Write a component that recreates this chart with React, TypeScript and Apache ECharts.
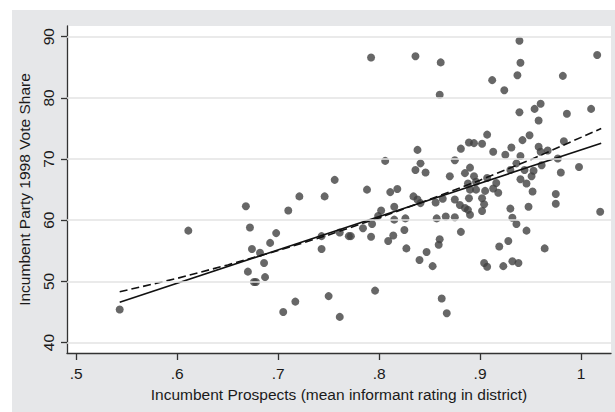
import React, { useEffect, useRef } from "react";
import * as echarts from "echarts";

const xTicks = [0.5, 0.6, 0.7, 0.8, 0.9, 1.0];
const yTicks = [40, 50, 60, 70, 80, 90];

const prospects = [
  0.543, 0.611, 0.668, 0.672, 0.674, 0.670, 0.676, 0.678, 0.682, 0.686, 0.687, 0.692, 0.698, 0.710, 0.721, 0.705, 0.717, 0.743, 0.743, 0.746,
  0.756, 0.750, 0.761, 0.761, 0.770, 0.772, 0.784, 0.788, 0.792, 0.792, 0.793, 0.796, 0.799,
  0.802, 0.806, 0.809, 0.811, 0.814, 0.815, 0.815, 0.818, 0.826, 0.825, 0.827, 0.836, 0.838, 0.836, 0.834, 0.838, 0.841, 0.841, 0.840, 0.846, 0.847,
  0.853, 0.856, 0.863, 0.857, 0.859, 0.860, 0.861, 0.860, 0.862, 0.867, 0.866, 0.870, 0.875, 0.875, 0.875, 0.881, 0.881, 0.880, 0.885, 0.885, 0.889, 0.888, 0.890, 0.889, 0.888, 0.890, 0.890, 0.894, 0.894, 0.896, 0.896,
  0.902, 0.902, 0.904, 0.902, 0.904, 0.907, 0.905, 0.907, 0.907, 0.912, 0.913, 0.913, 0.916, 0.918, 0.919, 0.923, 0.924, 0.925, 0.928, 0.930, 0.931, 0.930, 0.932, 0.932, 0.936, 0.937, 0.939, 0.939, 0.940, 0.936, 0.938, 0.940, 0.940, 0.942, 0.944, 0.946, 0.946, 0.948, 0.949,
  0.951, 0.953, 0.952, 0.954, 0.958, 0.958, 0.960, 0.960, 0.961, 0.964, 0.967, 0.975, 0.975, 0.977, 0.980, 0.982, 0.983, 0.986, 0.998, 1.010, 1.016, 1.019,
];
const voteShare = [
  45.4, 58.3, 62.3, 58.8, 55.3, 51.6, 49.9, 49.9, 54.7, 53.0, 50.7, 56.3, 57.9, 61.6, 63.9, 45.0, 46.7, 57.4, 55.3, 63.9,
  66.6, 47.6, 58.0, 44.2, 57.4, 57.4, 58.7, 65.0, 86.6, 57.3, 59.4, 48.5, 60.7,
  61.6, 69.7, 56.6, 64.6, 57.5, 62.2, 60.1, 65.1, 60.3, 58.4, 55.4, 86.8, 71.5, 68.2, 63.9, 63.4, 69.3, 62.8, 53.5, 67.8, 54.8,
  52.5, 62.9, 63.5, 60.3, 56.0, 56.9, 85.8, 80.5, 47.2, 44.8, 60.6, 67.2, 69.8, 63.4, 60.5, 71.7, 58.1, 62.5, 67.7, 62.0, 72.7, 66.0, 68.6, 63.6, 61.7, 60.9, 65.0, 72.6, 67.2, 66.3, 65.0,
  72.5, 63.6, 62.6, 61.5, 53.0, 52.4, 64.8, 66.9, 74.0, 82.9, 71.2, 65.2, 66.1, 64.5, 55.7, 52.5, 81.25, 70.7, 56.6, 61.9, 71.9, 68.2, 60.4, 53.3, 69.3, 83.7, 89.35, 77.65, 66.7, 59.4, 53.0, 85.75, 70.5, 73.1, 68.2, 58.3, 66.0, 62.2, 73.9,
  67.2, 68.1, 64.7, 78.2, 76.3, 72.0, 71.2, 79.05, 69.0, 55.4, 71.4, 62.7, 64.3, 70.1, 67.8, 83.6, 72.9, 77.4, 68.7, 78.2, 87.0, 61.4,
];

const linearX = [0.543, 1.02];
const linearFit = [46.6, 72.6];
const curveX = [0.543, 0.6, 0.65, 0.7, 0.75, 0.8, 0.85, 0.9, 0.95, 1.02];
const curveFit = [48.3, 50.5, 52.7, 55.05, 57.6, 60.4, 63.4, 66.55, 69.9, 75.0];

const FONT = "'Liberation Sans', Arial, sans-serif";

export default function App() {
  const ref = useRef<HTMLDivElement>(null);
  useEffect(() => {
    if (!ref.current) return;
    const chart = echarts.init(ref.current, null, { renderer: "svg" });
    const axisColor = "#333333";
    const textColor = "#1a1a1a";
    chart.setOption({
      animation: false,
      backgroundColor: "#ffffff",
      graphic: [
        {
          type: "rect",
          left: 12,
          top: 10,
          z: -10,
          shape: { width: 603, height: 402 },
          style: { fill: "#e6e7e9" },
        },
      ],
      grid: {
        left: 67,
        top: 26,
        right: 4,
        bottom: 59,
        show: true,
        backgroundColor: "#ffffff",
        borderWidth: 0,
      },
      xAxis: {
        type: "value",
        min: 0.4908,
        max: 1.0297,
        name: "Incumbent Prospects (mean informant rating in district)",
        nameLocation: "middle",
        nameGap: 33,
        nameTextStyle: { fontSize: 15.5, color: textColor, fontFamily: FONT },
        axisLine: { show: true, onZero: false, lineStyle: { color: axisColor, width: 1.3 } },
        axisTick: { show: true, length: 7, customValues: xTicks, lineStyle: { color: axisColor, width: 1.3 } },
        axisLabel: {
          customValues: xTicks,
          margin: 12,
          fontSize: 15.5,
          color: textColor,
          fontFamily: FONT,
          formatter: (v: number) => (v >= 1 ? "1" : String(v).replace(/^0/, "")),
        },
        splitLine: { show: false },
      },
      yAxis: {
        type: "value",
        min: 38.3,
        max: 91.75,
        name: "Incumbent Party 1998 Vote Share",
        nameLocation: "middle",
        nameGap: 30,
        nameTextStyle: { fontSize: 15.5, color: textColor, fontFamily: FONT },
        axisLine: { show: true, onZero: false, lineStyle: { color: axisColor, width: 1.3 } },
        axisTick: { show: true, length: 6, customValues: yTicks, lineStyle: { color: axisColor, width: 1.3 } },
        axisLabel: {
          customValues: yTicks,
          rotate: 90,
          margin: 10.5,
          fontSize: 15.5,
          color: textColor,
          fontFamily: FONT,
        },
        splitLine: { show: false },
      },
      series: [
        {
          type: "line",
          data: [],
          z: 1,
          silent: true,
          markLine: {
            silent: true,
            symbol: ["none", "none"],
            label: { show: false },
            lineStyle: { color: "#e3e3e3", type: "solid", width: 1.5 },
            data: yTicks.map((v) => ({ yAxis: v })),
          },
        },
        {
          type: "scatter",
          z: 2,
          symbol: "circle",
          symbolSize: 8,
          itemStyle: { color: "#414141" },
          data: prospects.map((x, i) => [x, voteShare[i]]),
        },
        {
          type: "line",
          z: 3,
          showSymbol: false,
          lineStyle: { color: "#111111", width: 1.6 },
          data: linearX.map((x, i) => [x, linearFit[i]]),
        },
        {
          type: "line",
          z: 3,
          showSymbol: false,
          lineStyle: { color: "#111111", width: 1.6, type: [8, 4] },
          data: curveX.map((x, i) => [x, curveFit[i]]),
        },
      ],
    });
    return () => chart.dispose();
  }, []);
  return (
    <div
      ref={ref}
      style={{ position: "absolute", left: 0, top: 0, width: 615, height: 412 }}
    />
  );
}
